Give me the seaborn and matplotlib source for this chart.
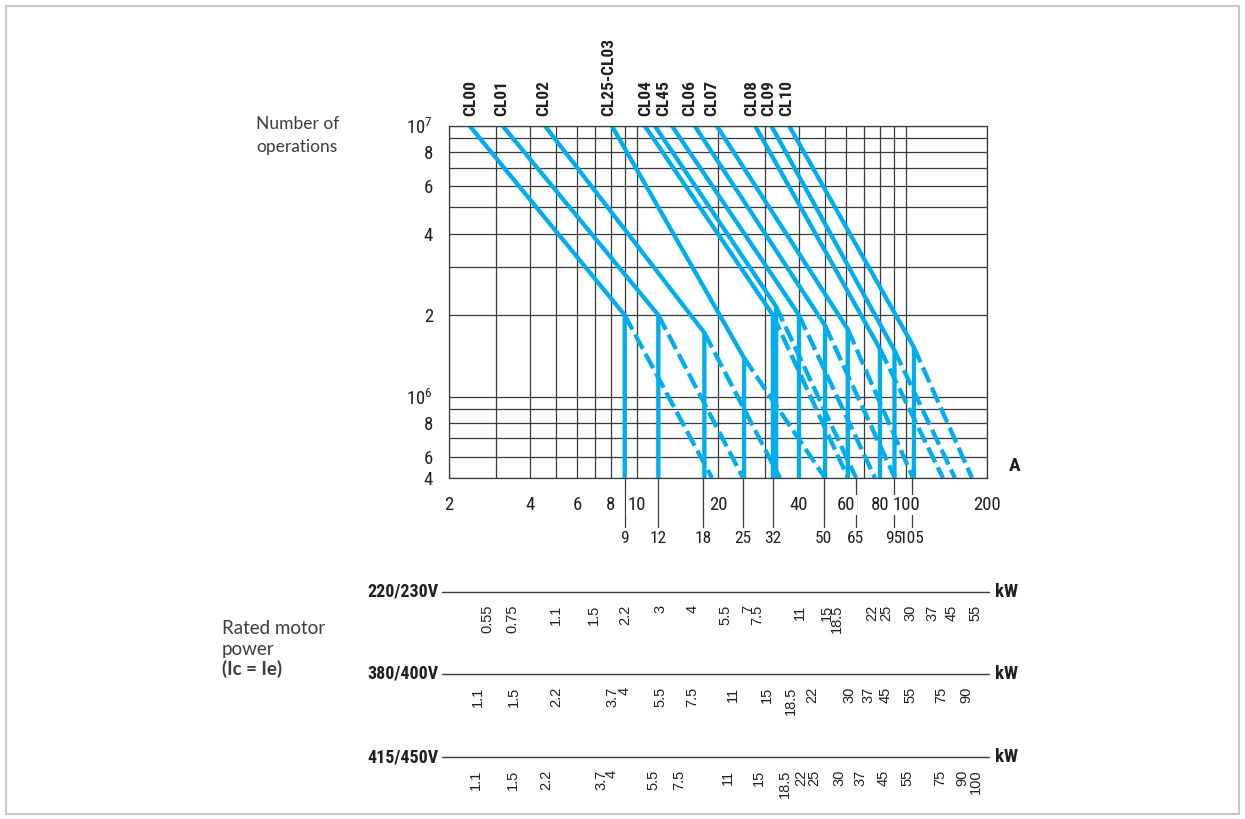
import matplotlib
matplotlib.use('Agg')
import pandas as pd
import matplotlib.pyplot as plt
import seaborn as sns
from matplotlib.ticker import NullFormatter, NullLocator
from matplotlib.transforms import blended_transform_factory
from matplotlib.patches import Rectangle

# ---- data (current in A, number of operations) ----
curve_names = ['CL00', 'CL01', 'CL02', 'CL25', 'CL03', 'CL04',
               'CL45', 'CL06', 'CL07', 'CL08', 'CL09', 'CL10']
top_current = [2.39, 3.17, 4.55, 8.07, 10.7, 11.66, 13.5, 16.4, 19.8, 27.5, 31.6, 36.8]
knee_current = [9, 12, 17.8, 25, 32, 32.9, 40, 50, 60.8, 80, 90.6, 107]
knee_ops = [2.0e6, 2.0e6, 1.72e6, 1.39e6, 2.0e6, 2.15e6,
            2.0e6, 1.83e6, 1.77e6, 1.50e6, 1.48e6, 1.52e6]
dash_end_current = [19.0, 24.8, 34.0, 50.0, 60.9, 65.2, 76.7, 91.0, 106.2, 137.2, 152.0, 175.9]
ops_top = 1e7
ops_bottom = 5e5

label_text = ['CL00', 'CL01', 'CL02', 'CL25-CL03', 'CL04', 'CL45',
              'CL06', 'CL07', 'CL08', 'CL09', 'CL10']
label_current = [2.41, 3.15, 4.51, 7.82, 10.73, 12.6, 15.64, 19.0, 26.8, 31.0, 36.0]

x_major = [2, 4, 6, 8, 10, 20, 40, 60, 80, 100, 200]
x_minor = [3, 5, 7, 9, 30, 50, 70, 90]
y_major = [5e5, 6e5, 8e5, 1e6, 2e6, 4e6, 6e6, 8e6, 1e7]
y_major_labels = ['4', '6', '8', r'$\mathregular{10^6}$', '2', '4', '6', '8', r'$\mathregular{10^7}$']
y_minor = [7e5, 9e5, 3e6, 5e6, 7e6, 9e6]

rated_current = [9, 12, 17.6, 24.8, 32, 49.5, 65, 90, 105]
rated_labels = ['9', '12', '18', '25', '32', '50', '65', '95', '105']

# motor power scales: kW labels at their equivalent current position
kw_220 = ['0.55', '0.75', '1.1', '1.5', '2.2', '3', '4', '5.5', '7', '7.5',
          '11', '15', '18.5', '22', '25', '30', '37', '45', '55']
amp_220 = [2.77, 3.43, 5.0, 6.92, 9.02, 12.2, 16.1, 21.4, 25.9, 27.9,
           40.3, 50.9, 55.4, 75.1, 84.2, 103.9, 124.9, 148.2, 181.3]
kw_400 = ['1.1', '1.5', '2.2', '3.7', '4', '5.5', '7.5', '11', '15', '18.5',
          '22', '30', '37', '45', '55', '75', '90']
amp_400 = [2.57, 3.49, 5.0, 8.07, 8.99, 12.2, 16.1, 22.7, 30.3, 37.3,
           44.7, 61.4, 72.5, 84.2, 104.2, 135.5, 167.5]
kw_415 = ['1.1', '1.5', '2.2', '3.7', '4', '5.5', '7.5', '11', '15', '18.5',
          '22', '25', '30', '37', '45', '', '55', '75', '90', '100']
amp_415 = [2.52, 3.45, 4.61, 7.38, 8.04, 11.5, 14.4, 21.7, 28.4, 35.5,
           40.9, 45.5, 56.4, 67.5, 82.8, 89.2, 101.5, 134.1, 162.6, 182.0]
voltages = ['220/230V', '380/400V', '415/450V']

BLUE = '#00aeef'
INK = '#231f20'
GRID = '#3a3a3a'
NARROW = ['Roboto Condensed', 'Archivo Narrow', 'Liberation Sans Narrow', 'DejaVu Sans']
REGULAR = ['Liberation Sans', 'Arimo', 'DejaVu Sans']
SOFT = ['Lato', 'DejaVu Sans']

sns.set_theme(style='white')
plt.rcParams['font.family'] = NARROW
plt.rcParams['mathtext.fontset'] = 'custom'
plt.rcParams['mathtext.rm'] = NARROW[0]
plt.rcParams['text.color'] = INK


def fx(px):
    return px / 1245


def fy(py):
    return 1 - py / 819


# build line tables
solid_rows, dash_rows = [], []
for name, x0, xk, yk, xe in zip(curve_names, top_current, knee_current, knee_ops, dash_end_current):
    solid_rows += [(name, x0, ops_top), (name, xk, yk), (name, xk, ops_bottom)]
    dash_rows += [(name, xk, yk), (name, xe, ops_bottom)]
solid = pd.DataFrame(solid_rows, columns=['model', 'current', 'ops'])
dashed = pd.DataFrame(dash_rows, columns=['model', 'current', 'ops'])

fig = plt.figure(figsize=(12.45, 8.19), dpi=100)
ax = fig.add_axes([fx(449), fy(478), 538 / 1245, 352 / 819])
ax.set_xscale('log')
ax.set_yscale('log')

sns.lineplot(data=solid, x='current', y='ops', units='model', estimator=None, sort=False,
             color=BLUE, linewidth=3.1, solid_capstyle='butt', ax=ax, legend=False)
sns.lineplot(data=dashed, x='current', y='ops', units='model', estimator=None, sort=False,
             color=BLUE, linewidth=3.1, linestyle=(0, (3.8, 1.3)), dash_capstyle='butt',
             ax=ax, legend=False)

ax.set_xlim(2, 200)
ax.set_ylim(ops_bottom, ops_top)
ax.set_xlabel('')
ax.set_ylabel('')

ax.set_xticks(x_major)
ax.set_xticklabels([str(v) for v in x_major])
ax.set_xticks(x_minor, minor=True)
ax.xaxis.set_minor_formatter(NullFormatter())
ax.set_yticks(y_major)
ax.set_yticklabels(y_major_labels)
ax.set_yticks(y_minor, minor=True)
ax.yaxis.set_minor_formatter(NullFormatter())

ax.set_axisbelow(True)
ax.grid(which='both', color=GRID, linewidth=0.9)
ax.tick_params(axis='x', which='major', direction='out', length=5, width=0.9,
               pad=8, labelsize=13.5, color=GRID, labelcolor=INK)
ax.tick_params(axis='y', which='major', direction='out', length=6.5, width=0.9,
               pad=5, labelsize=13.5, color=GRID, labelcolor=INK)
ax.tick_params(which='minor', length=0)
for s in ax.spines.values():
    s.set_color(GRID)
    s.set_linewidth(0.9)
for t in ax.get_xticklabels():
    t.set_bbox(dict(facecolor='white', edgecolor='none', pad=1))

trans = blended_transform_factory(ax.transData, ax.transAxes)

# contactor names above the chart
for txt, xc in zip(label_text, label_current):
    ax.annotate(txt, xy=(xc, 1.0), xycoords=trans, xytext=(0, 7), textcoords='offset points',
                rotation=90, ha='center', va='bottom', fontsize=12.5, fontweight='bold',
                annotation_clip=False)

# rated current marks hanging below the axis
for xc, lab in zip(rated_current, rated_labels):
    ax.plot([xc, xc], [0, -49 / 352], transform=trans, clip_on=False,
            color=GRID, linewidth=0.9, zorder=0.2)
    ax.text(xc, -53 / 352, lab, transform=trans, ha='center', va='top', fontsize=12.5)

fig.text(fx(1015), fy(466), 'A', ha='center', va='center', fontsize=14, fontweight='bold')

fig.text(fx(256), fy(124), 'Number of', ha='left', va='center', fontsize=12.5,
         family=SOFT, color='#3d3d3d')
fig.text(fx(256), fy(147), 'operations', ha='left', va='center', fontsize=12.5,
         family=SOFT, color='#3d3d3d')

# motor power scales
fig.text(fx(222), fy(629), 'Rated motor', ha='left', va='center', fontsize=13.5,
         family=SOFT, color='#3d3d3d')
fig.text(fx(222), fy(649), 'power', ha='left', va='center', fontsize=13.5,
         family=SOFT, color='#3d3d3d')
fig.text(fx(222), fy(669), '(Ic = Ie)', ha='left', va='center', fontsize=13.5,
         family=SOFT, fontweight='bold', color='#3d3d3d')

scale_rows = [592, 674, 757]
for volt, amps, kws, yl in zip(voltages, [amp_220, amp_400, amp_415],
                               [kw_220, kw_400, kw_415], scale_rows):
    sax = fig.add_axes([fx(449), fy(yl), 538 / 1245, 0.001])
    sax.set_xscale('log')
    sax.set_xlim(2, 200)
    sax.set_ylim(0, 1)
    sax.set_xticks(amps)
    sax.set_xticklabels(kws, rotation=90, fontsize=10.5, family=REGULAR)
    sax.xaxis.set_minor_locator(NullLocator())
    sax.set_yticks([])
    sax.tick_params(axis='x', direction='inout', length=14.5, width=0.9, pad=2,
                    color=GRID, labelcolor=INK)
    for s in sax.spines.values():
        s.set_visible(False)
    sax.patch.set_visible(False)
    sax.axhline(0, xmin=-0.013, xmax=1.004, clip_on=False, color=GRID, linewidth=1.0)
    fig.text(fx(438), fy(yl), volt, ha='right', va='center', fontsize=13, fontweight='bold')
    fig.text(fx(995), fy(yl), 'kW', ha='left', va='center', fontsize=13.5, fontweight='bold')

fig.add_artist(Rectangle((fx(6), fy(814)), 1233 / 1245, 808 / 819, transform=fig.transFigure,
                         fill=False, edgecolor='#c8c8c8', linewidth=1.5))

fig.savefig('out.png', dpi=100, facecolor='white')
